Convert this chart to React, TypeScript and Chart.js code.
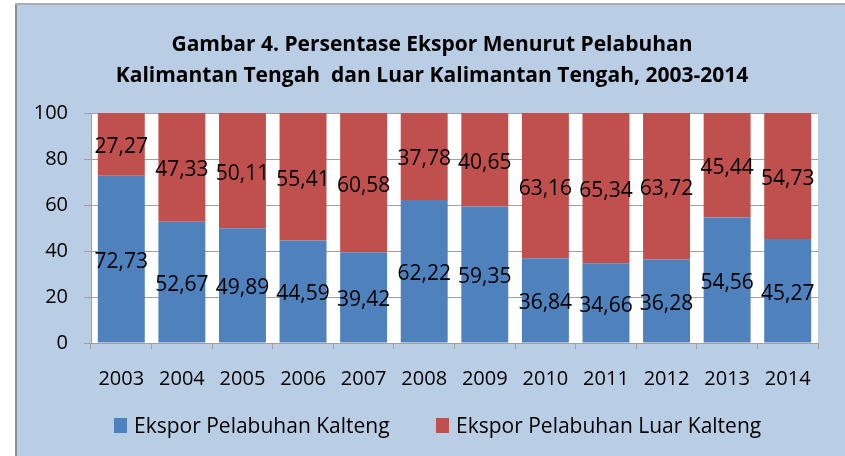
import React, { useEffect, useRef } from "react";
import { Chart, registerables } from "chart.js";

Chart.register(...registerables);

const titleLines = [
  "Gambar 4. Persentase Ekspor Menurut Pelabuhan",
  "Kalimantan Tengah  dan Luar Kalimantan Tengah, 2003-2014",
];
const years = ["2003", "2004", "2005", "2006", "2007", "2008", "2009", "2010", "2011", "2012", "2013", "2014"];
const seriesKalteng = [72.73, 52.67, 49.89, 44.59, 39.42, 62.22, 59.35, 36.84, 34.66, 36.28, 54.56, 45.27];
const seriesLuar = [27.27, 47.33, 50.11, 55.41, 60.58, 37.78, 40.65, 63.16, 65.34, 63.72, 45.44, 54.73];
const seriesNames = ["Ekspor Pelabuhan Kalteng", "Ekspor Pelabuhan Luar Kalteng"];
const yTickValues = [0, 20, 40, 60, 80, 100];

const BLUE = "#4f81bd";
const RED = "#c0504d";
const BG = "#b9cde5";
const GRID = "#a0a0a0";
const FONT = "'Open Sans', 'Noto Sans', sans-serif";

const framePlugin = {
  id: "frame",
  beforeDraw(chart: any) {
    const { ctx, width, height, chartArea } = chart;
    ctx.save();
    ctx.fillStyle = "#ffffff";
    ctx.fillRect(0, 0, width, height);
    ctx.fillStyle = BG;
    ctx.fillRect(17, 5, width - 17, height - 5);
    ctx.fillStyle = "#8a8f96";
    ctx.fillRect(15, 4, 2, height - 4);
    ctx.fillStyle = "#a9acb0";
    ctx.fillRect(15, 3, width - 15, 2);
    ctx.fillStyle = "#ffffff";
    ctx.fillRect(chartArea.left, chartArea.top, chartArea.right - chartArea.left, chartArea.bottom - chartArea.top);

    // title
    ctx.fillStyle = "#000000";
    ctx.textAlign = "center";
    ctx.textBaseline = "middle";
    ctx.font = `bold 21px ${FONT}`;
    ctx.fillText(titleLines[0], 432, 45);
    ctx.fillText(titleLines[1], 432, 76);

    // legend
    const colors = [BLUE, RED];
    const boxX = [114, 436];
    ctx.font = `21px ${FONT}`;
    ctx.textAlign = "left";
    seriesNames.forEach((name, i) => {
      ctx.fillStyle = colors[i];
      ctx.fillRect(boxX[i], 418, 13, 15);
      ctx.fillStyle = "#000000";
      ctx.fillText(name, boxX[i] + 20, 427);
    });
    ctx.restore();
  },
};

const labelPlugin = {
  id: "segLabels",
  afterDatasetsDraw(chart: any) {
    const { ctx } = chart;
    ctx.save();
    ctx.font = `21px ${FONT}`;
    ctx.fillStyle = "#000000";
    ctx.textAlign = "center";
    ctx.textBaseline = "middle";
    chart.data.datasets.forEach((ds: any, di: number) => {
      const meta = chart.getDatasetMeta(di);
      meta.data.forEach((bar: any, i: number) => {
        const v = ds.data[i] as number;
        const y = (bar.y + bar.base) / 2 + 3;
        ctx.fillText(v.toFixed(2).replace(".", ","), bar.x, y);
      });
    });
    ctx.restore();
  },
};

export default function App() {
  const ref = useRef<HTMLCanvasElement | null>(null);
  useEffect(() => {
    if (!ref.current) return;
    const chart = new Chart(ref.current, {
      type: "bar",
      data: {
        labels: years,
        datasets: [
          {
            label: seriesNames[0],
            data: seriesKalteng,
            backgroundColor: BLUE,
            borderWidth: 0,
            barPercentage: 0.775,
            categoryPercentage: 1,
          },
          {
            label: seriesNames[1],
            data: seriesLuar,
            backgroundColor: RED,
            borderWidth: 0,
            barPercentage: 0.775,
            categoryPercentage: 1,
          },
        ],
      },
      options: {
        responsive: false,
        animation: false,
        devicePixelRatio: 1,
        layout: { padding: { left: 17, right: 27, top: 113, bottom: 47 } },
        plugins: {
          title: { display: false },
          legend: { display: false },
          tooltip: { enabled: false },
        },
        scales: {
          x: {
            stacked: true,
            grid: {
              offset: true,
              drawOnChartArea: false,
              drawTicks: true,
              tickLength: 6,
              color: GRID,
            },
            border: { display: true, color: GRID, width: 1 },
            ticks: {
              color: "#000000",
              font: { family: FONT, size: 20 },
              padding: 18,
              maxRotation: 0,
            },
          },
          y: {
            stacked: true,
            min: 0,
            max: 100,
            afterBuildTicks(scale: any) {
              scale.ticks = yTickValues.map((v) => ({ value: v }));
            },
            afterFit(scale: any) {
              scale.width = 74;
            },
            grid: { color: GRID, tickLength: 7, drawTicks: true },
            border: { display: true, color: GRID, width: 1 },
            ticks: {
              color: "#000000",
              font: { family: FONT, size: 20 },
              padding: 16,
            },
          },
        },
      },
      plugins: [framePlugin, labelPlugin],
    });
    return () => chart.destroy();
  }, []);
  return (
    <div style={{ position: "fixed", left: 0, top: 0, width: 845, height: 456 }}>
      <canvas ref={ref} width={845} height={456} style={{ display: "block" }} />
    </div>
  );
}
